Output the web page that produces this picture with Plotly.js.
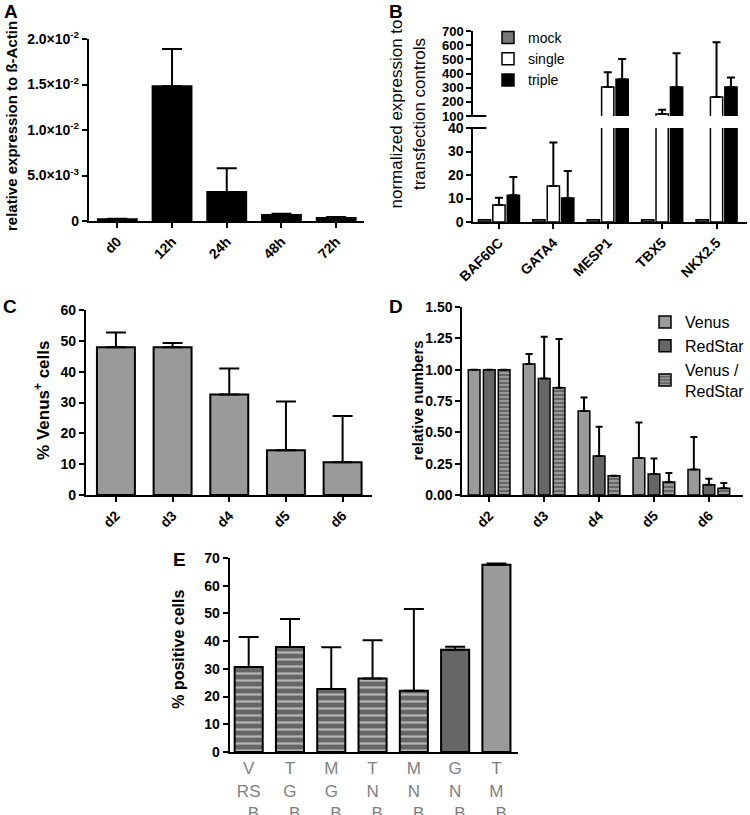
<!DOCTYPE html>
<html>
<head>
<meta charset="utf-8">
<script src="https://cdn.plot.ly/plotly-3.0.1.min.js"></script>
<style>
  body { margin: 0; background: #fff; }
  #plot { width: 750px; height: 815px; }
</style>
</head>
<body>
<div id="plot"></div>
<script>
// panel A - expression relative to b-actin
var aTimes = ["d0", "12h", "24h", "48h", "72h"];
var aMean = [0.00018, 0.0148, 0.0032, 0.00066, 0.00033];
var aErr = [0.00008, 0.0041, 0.0026, 0.00014, 0.00011];
var aTickVals = [0, 0.005, 0.01, 0.015, 0.02];
var aTickText = ["0", "5.0×10<sup>-3</sup>", "1.0×10<sup>-2</sup>", "1.5×10<sup>-2</sup>", "2.0×10<sup>-2</sup>"];

// panel B - normalized expression (broken axis)
var bGenes = ["BAF60C", "GATA4", "MESP1", "TBX5", "NKX2.5"];
var bMock = [1, 1, 1, 1, 1];
var bSingle = [7.2, 15.3, 304, 114, 234];
var bSingleErr = [3.1, 18.5, 105, 31, 386];
var bTriple = [11.4, 10.2, 360, 304, 304];
var bTripleErr = [7.7, 11.5, 143, 239, 68];

// panel C - % Venus+ cells
var cDays = ["d2", "d3", "d4", "d5", "d6"];
var cMean = [47.9, 47.9, 32.6, 14.5, 10.6];
var cErr = [4.8, 1.4, 8.4, 15.8, 15.0];

// panel D - relative numbers
var dDays = ["d2", "d3", "d4", "d5", "d6"];
var dVenus = [1.0, 1.045, 0.67, 0.295, 0.203];
var dVenusErr = [0, 0.08, 0.107, 0.284, 0.26];
var dRed = [1.0, 0.93, 0.311, 0.168, 0.082];
var dRedErr = [0, 0.333, 0.234, 0.124, 0.048];
var dBoth = [1.0, 0.856, 0.153, 0.103, 0.053];
var dBothErr = [0, 0.389, 0, 0.073, 0.042];

// panel E - % positive cells
var eLabels = ["V<br>RS<br>_B", "T<br>G<br>_B", "M<br>G<br>_B", "T<br>N<br>_B", "M<br>N<br>_B", "G<br>N<br>_B", "T<br>M<br>_B"];
var eMean = [30.7, 37.9, 22.7, 26.5, 22.1, 36.9, 67.6];
var eErr = [10.8, 10.1, 15.1, 13.8, 29.5, 1.1, 0.4];
var eKind = ["both", "both", "both", "both", "both", "red", "venus"];

var W = 750, H = 815;
function px(x) { return x / W; }
function py(y) { return 1 - y / H; }

var FONT = "Arial, Liberation Sans, sans-serif";
var LIGHT = "#9a9a9a", DARK = "#666666", STRIPE = "#b4b4b4";

function errUp(arr, w) {
  return { type: "data", symmetric: false, array: arr, arrayminus: arr.map(function () { return 0; }),
           color: "#000", thickness: 2, width: w };
}

function bar(x, y, err, opts) {
  var t = {
    type: "bar", x: x, y: y,
    width: opts.width, offset: opts.offset,
    xaxis: opts.xaxis, yaxis: opts.yaxis,
    marker: { color: opts.color, line: { color: "#000", width: opts.lw || 2 } },
    showlegend: !!opts.name, name: opts.name || "",
    legend: opts.legend || "legend",
    hoverinfo: "skip"
  };
  if (opts.pattern) t.marker.pattern = opts.pattern;
  if (err) t.error_y = errUp(err, opts.cap);
  return t;
}

var traces = [];
// A
traces.push(bar(aTimes, aMean, aErr, { width: 0.71, offset: -0.355, xaxis: "x", yaxis: "y", color: "#000", cap: 10 }));
// B: same bars on the lower (0-40) and upper (100-700) segment
var bw = 0.225;
[["y2", false], ["y3", true]].forEach(function (s) {
  var top = s[1];
  traces.push(bar(bGenes, bMock, null, { width: bw, offset: -0.3775, xaxis: "x2", yaxis: s[0], color: "#777", lw: 1.5, name: top ? null : "mock" }));
  traces.push(bar(bGenes, bSingle, bSingleErr, { width: bw, offset: -0.1125, xaxis: "x2", yaxis: s[0], color: "#fff", lw: 1.5, cap: 4, name: top ? null : "single" }));
  traces.push(bar(bGenes, bTriple, bTripleErr, { width: bw, offset: 0.1525, xaxis: "x2", yaxis: s[0], color: "#000", lw: 1.5, cap: 4, name: top ? null : "triple" }));
});
// C
traces.push(bar(cDays, cMean, cErr, { width: 0.67, offset: -0.335, xaxis: "x3", yaxis: "y4", color: LIGHT, cap: 10 }));
// D
var dw = 0.213;
var stripe = function (size) { return { shape: "-", bgcolor: DARK, fgcolor: STRIPE, size: size, solidity: 0.32 }; };
traces.push(bar(dDays, dVenus, dVenusErr, { width: dw, offset: -0.382, xaxis: "x4", yaxis: "y5", color: LIGHT, lw: 1.5, cap: 3.5, name: "Venus", legend: "legend2" }));
traces.push(bar(dDays, dRed, dRedErr, { width: dw, offset: -0.107, xaxis: "x4", yaxis: "y5", color: DARK, lw: 1.5, cap: 3.5, name: "RedStar", legend: "legend2" }));
traces.push(bar(dDays, dBoth, dBothErr, { width: dw, offset: 0.164, xaxis: "x4", yaxis: "y5", color: DARK, lw: 1.5, cap: 3.5, name: "Venus /<br>RedStar", legend: "legend2", pattern: stripe(4) }));
// E: one trace per fill kind, categories keep their order
function pick(arr, kind) { return arr.filter(function (v, i) { return eKind[i] === kind; }); }
traces.push(bar(pick(eLabels, "both"), pick(eMean, "both"), pick(eErr, "both"), { width: 0.68, offset: -0.34, xaxis: "x5", yaxis: "y6", color: DARK, cap: 10, pattern: stripe(7) }));
traces.push(bar(pick(eLabels, "red"), pick(eMean, "red"), pick(eErr, "red"), { width: 0.68, offset: -0.34, xaxis: "x5", yaxis: "y6", color: DARK, cap: 10 }));
traces.push(bar(pick(eLabels, "venus"), pick(eMean, "venus"), pick(eErr, "venus"), { width: 0.68, offset: -0.34, xaxis: "x5", yaxis: "y6", color: LIGHT, cap: 10 }));

var boldTick = { family: FONT, size: 14, color: "#000", weight: "bold" };
function xax(d0, d1, r, anchor, extra) {
  var a = { domain: [px(d0), px(d1)], range: r, anchor: anchor, type: "category",
    showline: true, linewidth: 2, linecolor: "#000", ticks: "outside", ticklen: 5, tickwidth: 2, tickcolor: "#000",
    showgrid: false, zeroline: false, tickangle: -45, tickfont: boldTick, fixedrange: true };
  for (var k in extra) a[k] = extra[k];
  return a;
}
function yax(t0, t1, r, anchor, extra) {
  var a = { domain: [py(t1), py(t0)], range: r, anchor: anchor,
    showline: true, linewidth: 2, linecolor: "#000", ticks: "outside", ticklen: 5, tickwidth: 2, tickcolor: "#000",
    showgrid: false, zeroline: false, tickfont: boldTick, fixedrange: true };
  for (var k in extra) a[k] = extra[k];
  return a;
}

function ann(text, x, y, opts) {
  var a = { text: text, x: px(x), y: py(y), xref: "paper", yref: "paper", showarrow: false,
    font: { family: FONT, size: opts.size || 16, color: "#000", weight: opts.weight || "bold" } };
  if (opts.angle) a.textangle = opts.angle;
  a.xanchor = opts.xanchor || "center";
  a.yanchor = opts.yanchor || "middle";
  return a;
}

// small break marks on the split axis of panel B
function brk(y) {
  return { type: "line", xref: "paper", yref: "paper", x0: px(468), x1: px(487), y0: py(y), y1: py(y),
           line: { color: "#000", width: 2 } };
}

var layout = {
  width: W, height: H,
  margin: { l: 0, r: 0, t: 0, b: 0 },
  paper_bgcolor: "#fff", plot_bgcolor: "rgba(0,0,0,0)",
  barmode: "overlay",
  font: { family: FONT },
  xaxis: xax(89, 364, [-0.52, 4.5], "y"),
  yaxis: yax(39, 221, [0, 0.02], "x", { tickmode: "array", tickvals: aTickVals, ticktext: aTickText }),
  xaxis2: xax(474, 748, [-0.47, 4.56], "y2"),
  yaxis2: yax(128, 222, [0, 40], "x2", { dtick: 10 }),
  yaxis3: yax(31, 116, [100, 700], "x2", { dtick: 100, tickfont: { family: FONT, size: 13, color: "#000", weight: "bold" } }),
  xaxis3: xax(86, 372, [-0.53, 4.51], "y4"),
  yaxis4: yax(310, 495, [0, 60], "x3", { dtick: 10 }),
  xaxis4: xax(463, 744, [-0.49, 4.62], "y5"),
  yaxis5: yax(307, 495, [0, 1.5], "x4", { dtick: 0.25, tickformat: ".2f" }),
  xaxis5: xax(230, 519, [-0.46, 6.53], "y6", { tickangle: 0, ticks: "", tickfont: { family: FONT, size: 17, color: "#808080" } }),
  yaxis6: yax(558, 752, [0, 70], "x5", { dtick: 10 }),
  legend: { x: px(488), y: py(22), xanchor: "left", yanchor: "top", bgcolor: "rgba(0,0,0,0)",
            font: { family: FONT, size: 14, color: "#000" }, tracegroupgap: 0 },
  legend2: { x: px(646), y: py(305), xanchor: "left", yanchor: "top", bgcolor: "rgba(0,0,0,0)",
             font: { family: FONT, size: 16, color: "#000" }, tracegroupgap: 0 },
  shapes: [brk(116), brk(128)],
  annotations: [
    ann("A", 2, -1, { size: 19, xanchor: "left", yanchor: "top" }),
    ann("B", 388, -1, { size: 19, xanchor: "left", yanchor: "top" }),
    ann("C", 1, 294, { size: 19, xanchor: "left", yanchor: "top" }),
    ann("D", 388, 294, { size: 19, xanchor: "left", yanchor: "top" }),
    ann("E", 171, 547, { size: 19, xanchor: "left", yanchor: "top" }),
    ann("relative expression to ß-Actin", 11, 126, { angle: -90, size: 15 }),
    ann("normalized expression to<br>transfection controls", 409, 114, { angle: -90, size: 17, weight: "normal" }),
    ann("% Venus<sup>+</sup> cells", 42, 400, { angle: -90, size: 17 }),
    ann("relative numbers", 418, 400, { angle: -90, size: 15 }),
    ann("% positive cells", 178, 649, { angle: -90, size: 16 })
  ]
};

Plotly.newPlot("plot", traces, layout, { staticPlot: true });
</script>
</body>
</html>
